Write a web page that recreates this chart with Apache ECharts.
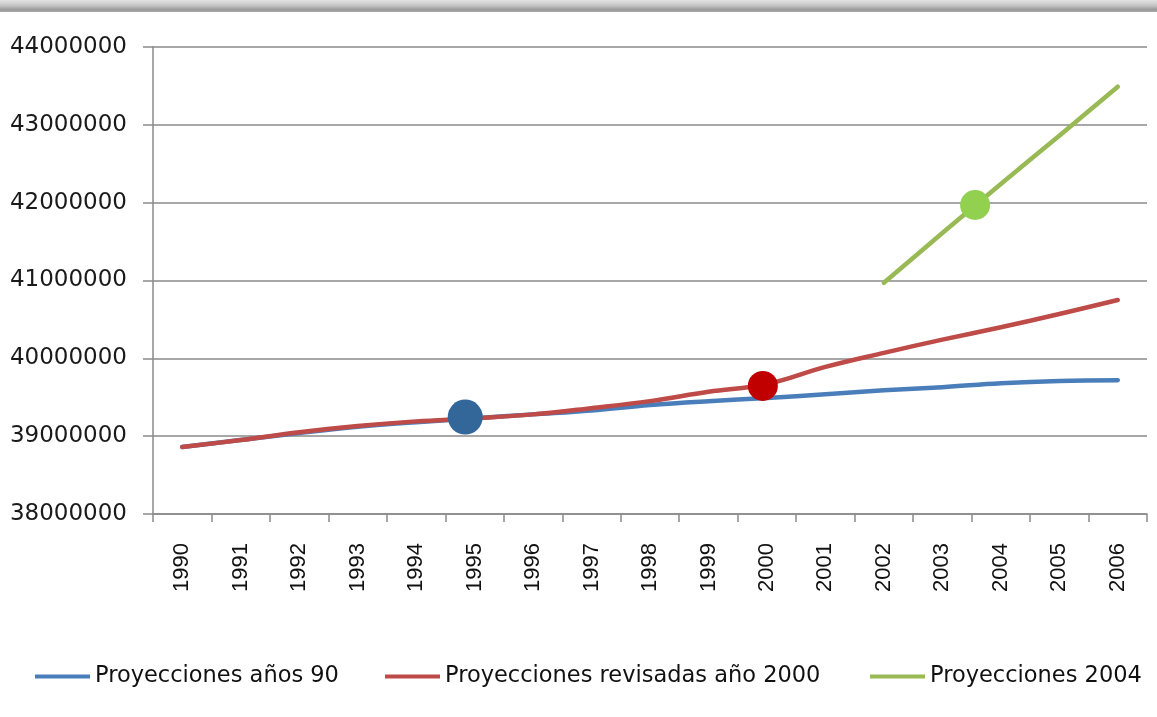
<!DOCTYPE html>
<html>
<head>
<meta charset="utf-8">
<title>Proyecciones de población</title>
<script src="https://cdn.jsdelivr.net/npm/echarts@6/dist/echarts.min.js"></script>
<style>
  html, body { margin: 0; padding: 0; background: #ffffff; }
  #chart { width: 1157px; height: 717px; }
</style>
</head>
<body>
<div id="chart"></div>
<script>
// Years on the horizontal axis
const years = ['1990','1991','1992','1993','1994','1995','1996','1997','1998',
               '1999','2000','2001','2002','2003','2004','2005','2006'];

// Population projections (inhabitants)
const proyecciones90 = [38861000, 38950000, 39040000, 39120000, 39180000, 39230000,
                        39280000, 39330000, 39400000, 39450000, 39490000, 39540000,
                        39590000, 39630000, 39680000, 39710000, 39720000];
const proyeccionesRevisadas2000 = [38861000, 38950000, 39050000, 39130000, 39190000, 39230000,
                                   39280000, 39360000, 39450000, 39570000, 39670000, 39890000,
                                   40070000, 40240000, 40400000, 40570000, 40750000];
const proyecciones2004 = [null, null, null, null, null, null, null, null, null,
                          null, null, null, 40970000, 41610000, 42240000, 42860000, 43490000];

// Highlight dots (year position, population)
const dotYears  = [1994.84, 1999.93, 2003.56];
const dotValues = [39246000, 39645000, 41970000];

const seriesNames = ['Proyecciones años 90', 'Proyecciones revisadas año 2000', 'Proyecciones 2004'];
const lineColors  = ['#4a7ebb', '#be4b48', '#98b954'];
const dotColors   = ['#336699', '#c00000', '#92d050'];
const dotSizes    = [35, 30, 30];

const chart = echarts.init(document.getElementById('chart'), null, { renderer: 'canvas' });

const lineData = [proyecciones90, proyeccionesRevisadas2000, proyecciones2004];

const lineSeries = lineData.map((d, i) => ({
  name: seriesNames[i],
  type: 'line',
  xAxisIndex: 0,
  yAxisIndex: 0,
  data: d,
  smooth: 0.4,
  showSymbol: false,
  symbol: 'none',
  connectNulls: false,
  lineStyle: { color: lineColors[i], width: 4.5, cap: 'round', join: 'round' },
  itemStyle: { color: lineColors[i] },
  z: 2 + i
}));

const dotSeries = [{
  name: 'marcadores',
  type: 'scatter',
  xAxisIndex: 1,
  yAxisIndex: 0,
  data: dotYears.map((x, i) => ({
    value: [x, dotValues[i]],
    symbolSize: dotSizes[i],
    itemStyle: { color: dotColors[i], opacity: 1 }
  })),
  symbol: 'circle',
  itemStyle: { opacity: 1 },
  emphasis: { disabled: true },
  z: 10
}];

const legendLefts = [30, 380, 865];
const legends = seriesNames.map((n, i) => ({
  data: [n],
  left: legendLefts[i],
  top: 660,
  orient: 'horizontal',
  icon: 'rect',
  itemWidth: 55,
  itemHeight: 4,
  selectedMode: false,
  textStyle: { fontFamily: 'DejaVu Sans', fontSize: 22.5, color: '#111111' }
}));

chart.setOption({
  animation: false,
  backgroundColor: '#ffffff',
  graphic: [{
    type: 'rect',
    left: 0, top: 0,
    shape: { width: 1157, height: 12 },
    style: {
      fill: new echarts.graphic.LinearGradient(0, 0, 0, 1, [
        { offset: 0, color: '#e2e2e2' },
        { offset: 0.25, color: '#d4d4d4' },
        { offset: 0.5, color: '#c0c0c0' },
        { offset: 0.8, color: '#9a9a9a' },
        { offset: 1, color: '#a8a8a8' }
      ])
    },
    z: 100
  }],
  legend: legends,
  grid: { left: 153, right: 10, top: 47, bottom: 203, containLabel: false },
  xAxis: [{
    type: 'category',
    data: years,
    boundaryGap: true,
    axisLine: { show: true, lineStyle: { color: '#8a8a8a', width: 1.5 } },
    axisTick: { show: true, length: 8, lineStyle: { color: '#8a8a8a', width: 1.5 } },
    axisLabel: {
      rotate: 90,
      margin: 29,
      fontFamily: 'Liberation Sans',
      fontSize: 22,
      color: '#111111'
    },
    splitLine: { show: false }
  }, {
    type: 'value',
    min: 1989.5,
    max: 2006.5,
    show: false
  }],
  yAxis: [{
    type: 'value',
    min: 38000000,
    max: 44000000,
    interval: 1000000,
    axisLine: { show: true, lineStyle: { color: '#8a8a8a', width: 1.5 } },
    axisTick: { show: true, length: 10, lineStyle: { color: '#8a8a8a', width: 1.5 } },
    axisLabel: {
      margin: 26,
      fontFamily: 'DejaVu Sans',
      fontSize: 23,
      color: '#1a1a1a',
      formatter: v => String(v)
    },
    splitLine: { show: true, lineStyle: { color: '#8a8a8a', width: 1.5 } }
  }],
  series: lineSeries.concat(dotSeries)
});
</script>
</body>
</html>
